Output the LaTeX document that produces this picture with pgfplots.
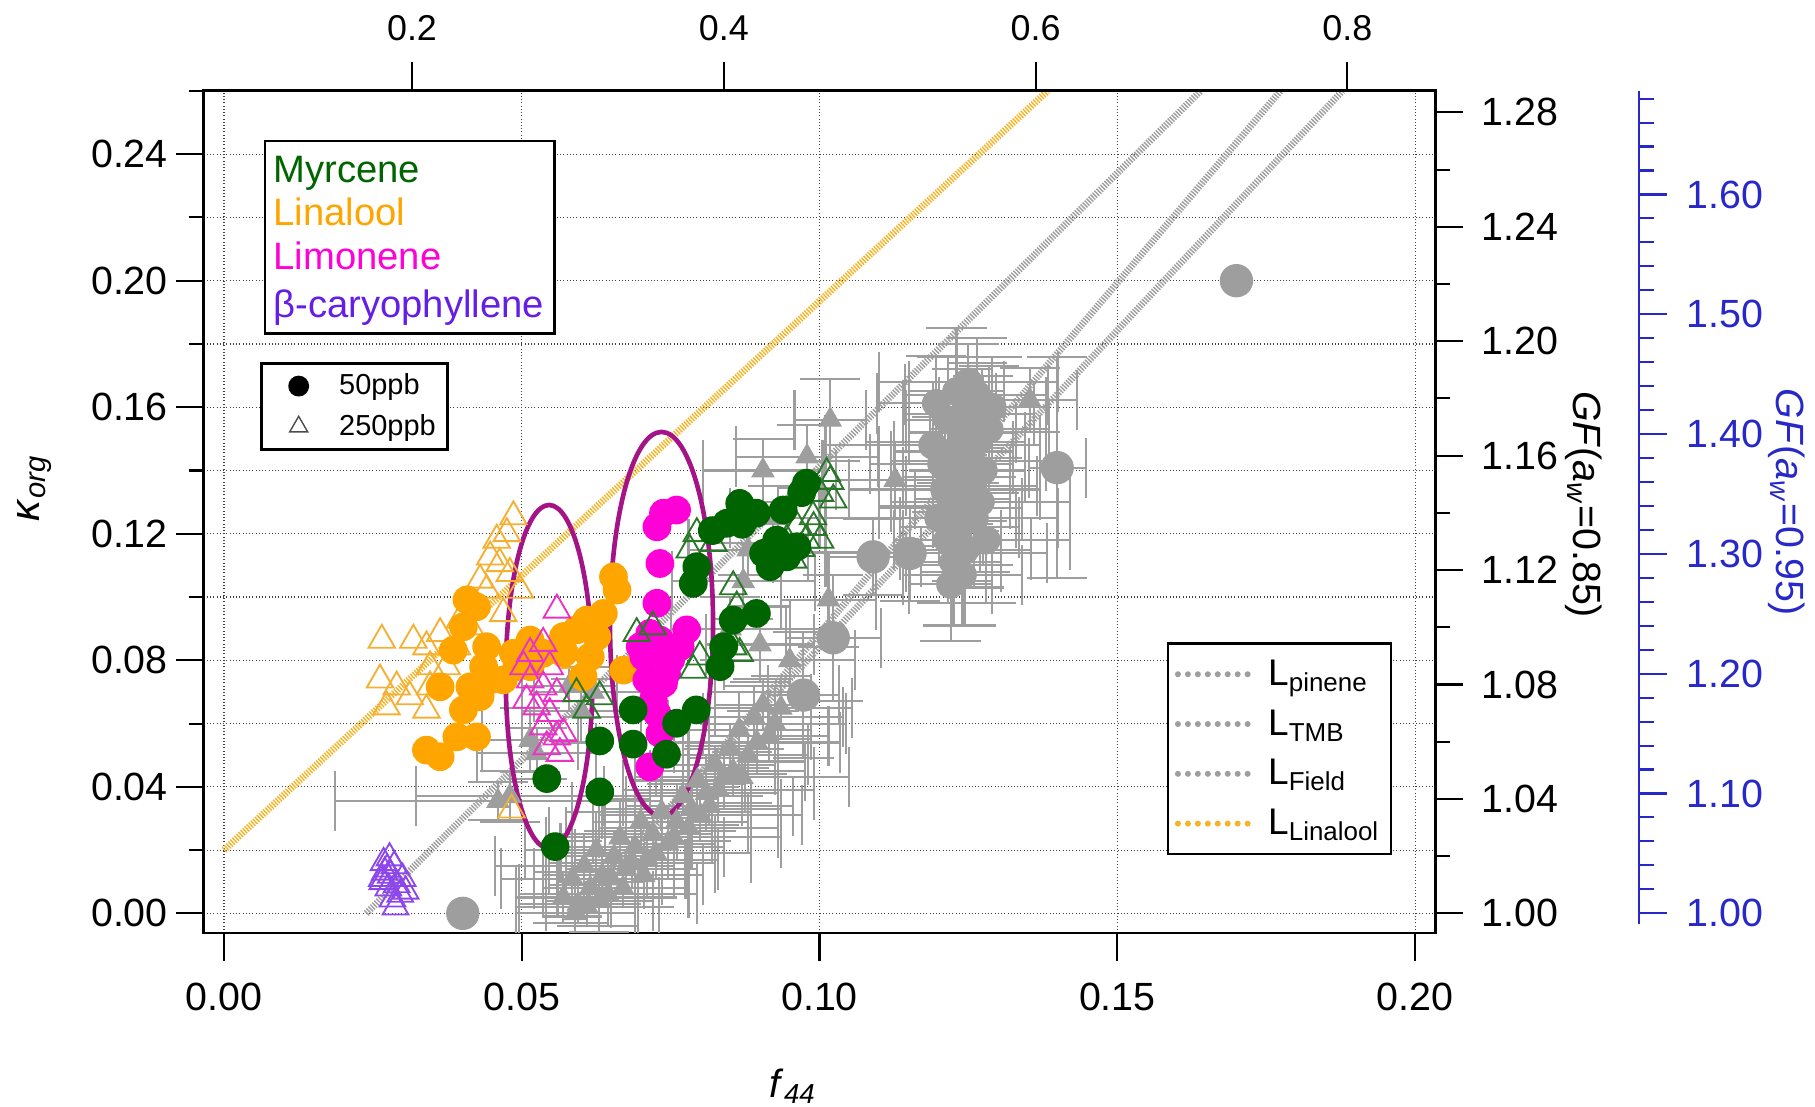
\documentclass[border=0pt]{standalone}
\usepackage{pgfplots}
\pgfplotsset{compat=1.18}
\usepackage{fontspec}
\setmainfont{Liberation Sans}

\definecolor{grayc}{RGB}{158,158,158}
\definecolor{myrc}{RGB}{0,100,0}
\definecolor{myrt}{RGB}{40,120,40}
\definecolor{linc}{RGB}{255,165,0}
\definecolor{lint}{RGB}{245,175,50}
\definecolor{limc}{RGB}{255,0,215}
\definecolor{limt}{RGB}{235,50,200}
\definecolor{cart}{RGB}{140,70,235}
\definecolor{cartext}{RGB}{100,30,230}
\definecolor{ellc}{RGB}{165,20,135}
\definecolor{linline}{RGB}{245,180,40}
\definecolor{gfblue}{RGB}{40,40,200}

\newcommand{\tfont}{\fontsize{17}{20}\selectfont}

% long error-bar caps
\pgfdeclareplotmark{ecap}{\pgfpathmoveto{\pgfqpoint{-13pt}{0pt}}\pgfpathlineto{\pgfqpoint{13pt}{0pt}}\pgfusepathqstroke}

\pgfplotsset{
  frame/.style={scale only axis, width=532pt, height=364pt, at={(0pt,0pt)}, anchor=south west,
    tick label style={font=\tfont},
    tick align=outside, major tick length=12pt, minor tick length=6.5pt,
    every tick/.style={black, line width=0.9pt},
    axis line style={line width=1.2pt}},
  gerr/.style={only marks, forget plot, color=grayc, mark options={fill=grayc, draw=grayc, solid},
    error bars/x dir=both, error bars/x explicit, error bars/y dir=both, error bars/y explicit,
    error bars/error mark=ecap,
    error bars/error bar style={line width=0.9pt, grayc, solid},
    error bars/error mark options={rotate=90, grayc, line width=0.9pt, solid}},
  spc/.style={only marks, forget plot, mark options={solid, line width=0.8pt}},
  gline/.style={grayc, line width=3pt, dash pattern=on 0.6pt off 0.6pt},
}

\begin{document}
\begin{tikzpicture}
\useasboundingbox (-88pt,-75pt) rectangle (696pt,403pt);

% main axis: f44 vs kappa_org
\begin{axis}[frame,
  xmin=-0.0034, xmax=0.2034, ymin=-0.0062, ymax=0.2602,
  xtick={0,0.05,0.1,0.15,0.2}, xticklabels={0.00,0.05,0.10,0.15,0.20},
  ytick={0,0.04,0.08,0.12,0.16,0.2,0.24},
  yticklabels={0.00,0.04,0.08,0.12,0.16,0.20,0.24},
  minor ytick={0.02,0.06,0.1,0.14,0.18,0.22,0.26},
  xtick pos=left, ytick pos=left,
  xticklabel style={yshift=-6pt},
  xmajorgrids, ymajorgrids, yminorgrids,
  major grid style={densely dotted, black!75, line width=0.5pt},
  minor grid style={densely dotted, black!75, line width=0.5pt},
  legend style={at={(axis description cs:0.782,0.3448)}, anchor=north west, draw=black,
    line width=1pt, fill=white, font=\fontsize{16}{18}\selectfont, row sep=5pt,
    inner xsep=3pt, inner ysep=5pt, cells={anchor=west}},
  legend image code/.code={\path[draw=none, fill=none] (0pt,-2pt) rectangle (37pt,2pt);
    \draw[#1, line width=2.6pt, dash pattern=on 0pt off 4.3pt, line cap=round] (0pt,0pt) -- (33pt,0pt);},
]

% gray reference data, circles
\addplot[gerr, mark=*, mark size=6pt] table[x index=0, y index=1, x error index=2, y error index=3, row sep=\\] {
0.1196 0.1612 0.0100 0.0150\\
0.1230 0.1650 0.0080 0.0200\\
0.1264 0.1640 0.0120 0.0180\\
0.1290 0.1600 0.0090 0.0160\\
0.1250 0.1580 0.0110 0.0220\\
0.1215 0.1560 0.0070 0.0200\\
0.1240 0.1520 0.0090 0.0200\\
0.1265 0.1490 0.0080 0.0250\\
0.1225 0.1460 0.0100 0.0180\\
0.1250 0.1430 0.0130 0.0220\\
0.1275 0.1400 0.0070 0.0300\\
0.1230 0.1380 0.0090 0.0200\\
0.1255 0.1350 0.0110 0.0240\\
0.1240 0.1310 0.0080 0.0260\\
0.1220 0.1280 0.0120 0.0200\\
0.1260 0.1250 0.0070 0.0220\\
0.1235 0.1220 0.0100 0.0180\\
0.1215 0.1180 0.0090 0.0200\\
0.1245 0.1150 0.0110 0.0240\\
0.1225 0.1110 0.0080 0.0200\\
0.1240 0.1070 0.0100 0.0160\\
0.1220 0.1040 0.0070 0.0180\\
0.1285 0.1530 0.0100 0.0200\\
0.1205 0.1420 0.0120 0.0150\\
0.1190 0.1480 0.0180 0.0200\\
0.1270 0.1300 0.0150 0.0220\\
0.1210 0.1340 0.0160 0.0180\\
0.1280 0.1180 0.0140 0.0200\\
0.1200 0.1250 0.0200 0.0150\\
0.1250 0.1680 0.0150 0.0120\\
};
% gray reference data, large circles
\addplot[gerr, mark=*, mark size=7pt] table[x index=0, y index=1, x error index=2, y error index=3, row sep=\\] {
0.1090 0.1127 0.0080 0.0120\\
0.1152 0.1138 0.0230 0.0150\\
0.1399 0.1409 0.0048 0.0350\\
0.0973 0.0690 0.0060 0.0200\\
0.1023 0.0871 0.0080 0.0200\\
};
% gray reference data, triangles
\addplot[gerr, mark=triangle*, mark size=5.5pt] table[x index=0, y index=1, x error index=2, y error index=3, row sep=\\] {
0.1018 0.1560 0.0060 0.0130\\
0.0979 0.1444 0.0120 0.0100\\
0.1127 0.1370 0.0100 0.0120\\
0.1015 0.0992 0.0080 0.0150\\
0.0905 0.1400 0.0100 0.0100\\
0.0872 0.1050 0.0120 0.0120\\
0.1353 0.1623 0.0080 0.0100\\
0.0850 0.0900 0.0100 0.0100\\
0.0900 0.0850 0.0090 0.0120\\
0.0950 0.0800 0.0110 0.0100\\
0.0880 0.1150 0.0100 0.0080\\
0.0930 0.1250 0.0080 0.0100\\
0.0570 0.0050 0.0080 0.0080\\
0.0585 0.0110 0.0120 0.0120\\
0.0595 0.0030 0.0100 0.0060\\
0.0605 0.0150 0.0150 0.0100\\
0.0615 0.0080 0.0080 0.0080\\
0.0625 0.0200 0.0120 0.0120\\
0.0635 0.0120 0.0100 0.0060\\
0.0645 0.0060 0.0150 0.0100\\
0.0655 0.0180 0.0080 0.0080\\
0.0665 0.0240 0.0120 0.0120\\
0.0675 0.0140 0.0100 0.0060\\
0.0690 0.0210 0.0150 0.0100\\
0.0700 0.0290 0.0080 0.0080\\
0.0710 0.0170 0.0120 0.0120\\
0.0720 0.0250 0.0100 0.0060\\
0.0735 0.0320 0.0150 0.0100\\
0.0745 0.0220 0.0080 0.0080\\
0.0760 0.0290 0.0120 0.0120\\
0.0770 0.0370 0.0100 0.0060\\
0.0785 0.0330 0.0150 0.0100\\
0.0795 0.0420 0.0080 0.0080\\
0.0810 0.0380 0.0120 0.0120\\
0.0825 0.0470 0.0100 0.0060\\
0.0840 0.0430 0.0150 0.0100\\
0.0850 0.0520 0.0080 0.0080\\
0.0865 0.0580 0.0120 0.0120\\
0.0880 0.0500 0.0100 0.0060\\
0.0890 0.0620 0.0150 0.0100\\
0.0905 0.0660 0.0080 0.0080\\
0.0925 0.0600 0.0120 0.0120\\
0.0514 0.0548 0.0080 0.0100\\
0.0525 0.0506 0.0100 0.0080\\
0.0460 0.0355 0.0274 0.0060\\
0.0480 0.0370 0.0158 0.0080\\
0.0600 0.0640 0.0100 0.0100\\
0.0580 0.0720 0.0080 0.0080\\
0.0620 0.0700 0.0100 0.0080\\
0.0590 0.0000 0.0100 0.0080\\
0.0610 0.0020 0.0120 0.0060\\
0.0630 0.0040 0.0090 0.0100\\
0.0650 0.0110 0.0130 0.0080\\
0.0670 0.0080 0.0110 0.0060\\
0.0685 0.0160 0.0140 0.0080\\
0.0705 0.0120 0.0100 0.0100\\
0.0725 0.0190 0.0160 0.0080\\
0.0755 0.0240 0.0180 0.0080\\
0.0780 0.0270 0.0150 0.0100\\
0.0800 0.0310 0.0170 0.0080\\
0.0815 0.0340 0.0140 0.0060\\
0.0830 0.0390 0.0160 0.0100\\
0.0855 0.0450 0.0120 0.0080\\
0.0870 0.0430 0.0180 0.0080\\
0.0895 0.0540 0.0140 0.0100\\
0.0915 0.0560 0.0100 0.0080\\
0.0935 0.0650 0.0120 0.0100\\
};

% Linalool, 250 ppb
\addplot[spc, mark=triangle, mark size=6.6pt, color=lint] table[row sep=\\] {
0.0265 0.0864\\ 0.0318 0.0864\\ 0.0340 0.0843\\ 0.0363 0.0885\\
0.0262 0.0738\\ 0.0290 0.0716\\ 0.0273 0.0653\\ 0.0312 0.0685\\
0.0340 0.0643\\ 0.0346 0.0780\\ 0.0374 0.0780\\ 0.0391 0.0843\\
0.0413 0.0906\\ 0.0430 0.1054\\ 0.0447 0.1127\\ 0.0458 0.1180\\
0.0475 0.1201\\ 0.0486 0.1254\\ 0.0441 0.1022\\ 0.0463 0.1106\\
0.0480 0.1075\\ 0.0469 0.0948\\ 0.0497 0.1022\\ 0.0396 0.0927\\
0.0346 0.0716\\ 0.0483 0.0327\\ 0.0560 0.0850\\ 0.0590 0.0800\\
};
% Linalool, 50 ppb
\addplot[spc, mark=*, mark size=5.8pt, color=linc] table[row sep=\\] {
0.0408 0.0991\\ 0.0424 0.0969\\ 0.0402 0.0906\\ 0.0385 0.0832\\
0.0441 0.0843\\ 0.0363 0.0716\\ 0.0402 0.0643\\ 0.0430 0.0685\\
0.0447 0.0738\\ 0.0391 0.0558\\ 0.0424 0.0558\\ 0.0340 0.0516\\
0.0363 0.0495\\ 0.0469 0.0738\\ 0.0492 0.0780\\ 0.0514 0.0864\\
0.0536 0.0822\\ 0.0570 0.0875\\ 0.0592 0.0896\\ 0.0609 0.0927\\
0.0654 0.1064\\ 0.0660 0.1022\\ 0.0637 0.0948\\ 0.0626 0.0875\\
0.0615 0.0811\\ 0.0671 0.0769\\ 0.0603 0.0748\\ 0.0570 0.0822\\
0.0514 0.0780\\ 0.0486 0.0822\\ 0.0436 0.0780\\ 0.0413 0.0716\\
};
% Limonene, 250 ppb
\addplot[spc, mark=triangle, mark size=6.6pt, color=limt] table[row sep=\\] {
0.0559 0.0959\\ 0.0514 0.0822\\ 0.0536 0.0854\\ 0.0547 0.0780\\
0.0514 0.0738\\ 0.0536 0.0716\\ 0.0525 0.0653\\ 0.0547 0.0632\\
0.0536 0.0590\\ 0.0559 0.0558\\ 0.0542 0.0527\\ 0.0564 0.0506\\
0.0570 0.0569\\ 0.0508 0.0674\\ 0.0503 0.0780\\ 0.0559 0.0695\\
};
% Limonene, 50 ppb
\addplot[spc, mark=*, mark size=5.8pt, color=limc] table[row sep=\\] {
0.0738 0.1265\\ 0.0760 0.1275\\ 0.0727 0.1222\\ 0.0732 0.1106\\
0.0727 0.0980\\ 0.0777 0.0896\\ 0.0732 0.0864\\ 0.0705 0.0811\\
0.0750 0.0801\\ 0.0710 0.0738\\ 0.0738 0.0727\\ 0.0721 0.0674\\
0.0743 0.0759\\ 0.0727 0.0632\\ 0.0732 0.0569\\ 0.0715 0.0463\\
0.0699 0.0843\\ 0.0766 0.0843\\ 0.0715 0.0885\\
};
% Myrcene, 250 ppb
\addplot[spc, mark=triangle, mark size=6.6pt, color=myrt] table[row sep=\\] {
0.1012 0.1391\\ 0.1001 0.1328\\ 0.1023 0.1307\\ 0.0989 0.1254\\
0.0962 0.1222\\ 0.0978 0.1180\\ 0.1001 0.1180\\ 0.0945 0.1180\\
0.0956 0.1117\\ 0.0794 0.1201\\ 0.0782 0.1149\\ 0.0822 0.1170\\
0.0855 0.1033\\ 0.0861 0.0969\\ 0.0855 0.0843\\ 0.0799 0.0811\\
0.0788 0.0769\\ 0.0866 0.0822\\ 0.0720 0.0906\\ 0.0693 0.0885\\
0.1018 0.1366\\ 0.0990 0.1220\\ 0.0969 0.1154\\ 0.0592 0.0695\\
0.0631 0.0685\\ 0.0609 0.0643\\
};
% Myrcene, 50 ppb
\addplot[spc, mark=*, mark size=5.8pt, color=myrc] table[row sep=\\] {
0.0556 0.0211\\ 0.0542 0.0426\\ 0.0631 0.0384\\ 0.0631 0.0545\\
0.0687 0.0535\\ 0.0687 0.0643\\ 0.0743 0.0503\\ 0.0760 0.0601\\
0.0793 0.0643\\ 0.0833 0.0780\\ 0.0839 0.0843\\ 0.0855 0.0927\\
0.0894 0.0948\\ 0.0788 0.1043\\ 0.0794 0.1096\\ 0.0844 0.1233\\
0.0866 0.1296\\ 0.0894 0.1265\\ 0.0939 0.1275\\ 0.0978 0.1360\\
0.0970 0.1330\\ 0.0906 0.1138\\ 0.0917 0.1096\\ 0.0945 0.1127\\
0.0962 0.1159\\ 0.0928 0.1180\\ 0.0870 0.1230\\ 0.0820 0.1210\\
};
% beta-caryophyllene, 250 ppb
\addplot[spc, mark=triangle, mark size=6.4pt, color=cart] table[row sep=\\] {
0.0268 0.0160\\ 0.0274 0.0140\\ 0.0280 0.0120\\ 0.0266 0.0100\\
0.0286 0.0150\\ 0.0290 0.0090\\ 0.0276 0.0080\\ 0.0296 0.0060\\
0.0283 0.0045\\ 0.0300 0.0110\\ 0.0270 0.0130\\ 0.0305 0.0070\\
0.0278 0.0175\\ 0.0288 0.0020\\ 0.0265 0.0110\\
};
% isolated large gray circles
\addplot[only marks, forget plot, mark=*, mark size=7pt, color=grayc] table[row sep=\\] {
0.0401 0.0000\\ 0.1700 0.2000\\
};

% parameterisation lines
\addplot[gline] coordinates {(0.0239,0) (0.1640,0.2600)};
\addlegendentry{L\textsubscript{pinene}}
\addplot[gline] coordinates {(0.0600,0) (0.1774,0.2600)};
\addlegendentry{L\textsubscript{TMB}}
\addplot[gline] coordinates {(0.0580,0) (0.1878,0.2600)};
\addlegendentry{L\textsubscript{Field}}
\addplot[linline, line width=3pt, dash pattern=on 0.6pt off 0.6pt] coordinates {(0,0.02) (0.1383,0.2600)};
\addlegendentry{L\textsubscript{Linalool}}

\draw[ellc, line width=2pt] (axis cs:0.0546,0.0748) ellipse [x radius=0.00729, y radius=0.0543];
\draw[ellc, line width=2pt] (axis cs:0.07347,0.0915) ellipse [x radius=0.00865, y radius=0.0607];
\end{axis}

% top axis: O:C
\begin{axis}[frame,
  xmin=0.0664, xmax=0.8564, ymin=0, ymax=1,
  axis x line*=top, axis y line=none,
  xtick={0.2,0.4,0.6,0.8}, xticklabels={0.2,0.4,0.6,0.8},
  xticklabel style={yshift=6pt, font=\fontsize{15.5}{18}\selectfont},
]
\end{axis}

% right axis: GF(aw=0.85)
\begin{axis}[frame,
  xmin=0, xmax=1, ymin=0.99312, ymax=1.28774,
  axis y line*=right, axis x line=none,
  ytick={1,1.04,1.08,1.12,1.16,1.2,1.24,1.28},
  yticklabels={1.00,1.04,1.08,1.12,1.16,1.20,1.24,1.28},
  minor ytick={1.02,1.06,1.1,1.14,1.18,1.22,1.26},
  yticklabel style={xshift=4.5pt},
  legend style={at={(axis description cs:0.0461,0.6772)}, anchor=north west, draw=black,
    line width=1pt, fill=white, font=\fontsize{12.5}{14}\selectfont, row sep=3pt,
    inner xsep=3pt, inner ysep=2.5pt, cells={anchor=west}},
  legend image code/.code={\path[draw=none, fill=none] (0pt,-3pt) rectangle (28.5pt,3pt); \draw[#1] plot coordinates {(13pt,0pt)};},
]
\addlegendimage{only marks, mark=*, mark size=4pt, black}
\addlegendentry{50ppb}
\addlegendimage{only marks, mark=triangle, mark size=4.5pt, black!70, mark options={line width=0.6pt}}
\addlegendentry{250ppb}
\end{axis}

% second right axis: GF(aw=0.95)
\begin{axis}[scale only axis, width=1pt, height=359.5pt, at={(620pt,4pt)}, anchor=south east,
  xmin=0, xmax=1, ymin=0.9913, ymax=1.6860,
  axis x line=none, axis y line*=right,
  axis line style={gfblue, line width=1.2pt},
  ytick={1,1.1,1.2,1.3,1.4,1.5,1.6},
  yticklabels={1.00,1.10,1.20,1.30,1.40,1.50,1.60},
  minor ytick={1.02,1.04,1.06,1.08,1.12,1.14,1.16,1.18,1.22,1.24,1.26,1.28,1.32,1.34,1.36,1.38,1.42,1.44,1.46,1.48,1.52,1.54,1.56,1.58,1.62,1.64,1.66,1.68},
  tick align=outside, major tick length=12pt, minor tick length=6.5pt,
  every tick/.style={gfblue, line width=0.9pt},
  yticklabel style={gfblue, font=\tfont, xshift=5pt},
]
\end{axis}

% species legend
\draw[line width=1pt, fill=white] (26.5pt,259pt) rectangle (151.5pt,342pt);
\node[anchor=base west, inner sep=0pt, font=\fontsize{16.5}{19}\selectfont, text=myrc] at (30pt,324pt) {Myrcene};
\node[anchor=base west, inner sep=0pt, font=\fontsize{16.5}{19}\selectfont, text=linc] at (30pt,305.5pt) {Linalool};
\node[anchor=base west, inner sep=0pt, font=\fontsize{16.5}{19}\selectfont, text=limc] at (30pt,286.5pt) {Limonene};
\node[anchor=base west, inner sep=0pt, font=\fontsize{16.5}{19}\selectfont, text=cartext] at (30pt,266pt) {β-caryophyllene};

% axis titles
\node[rotate=90, font=\fontsize{18}{20}\selectfont] at (-73pt,192pt) {\textit{κ}\textsubscript{\textit{org}}};
\node[font=\fontsize{17}{20}\selectfont] at (254.5pt,-66pt) {\textit{f}\textsubscript{\textit{44}}};
\node[rotate=-90, font=\tfont] at (596pt,185pt) {\textit{GF}(\textit{a}\textsubscript{\textit{w}}=0.85)};
\node[rotate=-90, font=\tfont, text=gfblue] at (683.75pt,186pt) {\textit{GF}(\textit{a}\textsubscript{\textit{w}}=0.95)};
\end{tikzpicture}
\end{document}
